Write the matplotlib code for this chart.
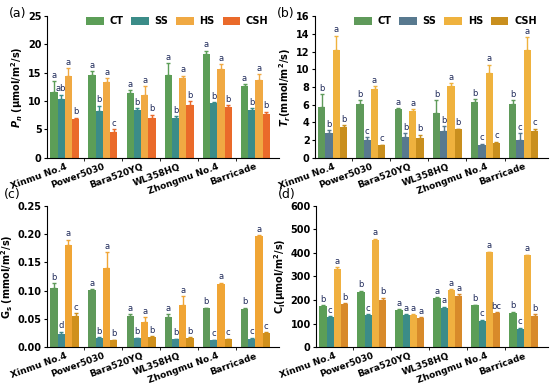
import matplotlib.pyplot as plt
import numpy as np

cultivars = ['Xinmu No.4', 'Power5030', 'Bara520YQ', 'WL358HQ', 'Zhongmu No.4', 'Barricade']
treatments = ['CT', 'SS', 'HS', 'CSH']

# (a) Pn
pn_mean = [[11.7, 14.7, 11.5, 14.6, 18.4, 12.7],
           [10.3, 8.3, 8.4, 7.0, 9.6, 8.5],
           [14.4, 13.3, 11.1, 14.0, 15.7, 13.8],
           [6.8, 4.6, 7.0, 9.3, 8.9, 7.8]]
pn_err = [[1.8, 0.6, 0.4, 2.1, 0.5, 0.3],
          [0.8, 0.9, 0.4, 0.3, 0.2, 0.3],
          [1.4, 0.7, 1.5, 0.5, 0.8, 1.0],
          [0.3, 0.4, 0.6, 0.7, 0.4, 0.3]]
pn_let = [['a', 'a', 'a', 'a', 'a', 'a'],
          ['ab', 'b', 'b', 'b', 'b', 'b'],
          ['a', 'a', 'a', 'a', 'a', 'a'],
          ['b', 'c', 'b', 'b', 'b', 'b']]

# (b) Tr
tr_mean = [[5.7, 6.1, 5.5, 5.1, 6.3, 6.1],
           [2.8, 2.0, 2.4, 3.0, 1.5, 2.0],
           [12.2, 7.8, 5.3, 8.1, 9.6, 12.2],
           [3.5, 1.4, 2.2, 3.2, 1.7, 3.0]]
tr_err = [[1.5, 0.4, 0.1, 1.4, 0.3, 0.4],
          [0.3, 0.3, 0.4, 0.6, 0.1, 0.8],
          [1.6, 0.3, 0.2, 0.3, 0.9, 1.4],
          [0.2, 0.1, 0.4, 0.1, 0.1, 0.3]]
tr_let = [['b', 'b', 'a', 'b', 'b', 'b'],
          ['b', 'c', 'b', 'b', 'c', 'c'],
          ['a', 'a', 'a', 'a', 'a', 'a'],
          ['b', 'c', 'b', 'b', 'c', 'c']]

# (c) Gs
gs_mean = [[0.105, 0.101, 0.055, 0.054, 0.069, 0.068],
           [0.024, 0.017, 0.016, 0.014, 0.012, 0.015],
           [0.180, 0.140, 0.045, 0.075, 0.112, 0.196],
           [0.055, 0.012, 0.018, 0.017, 0.014, 0.025]]
gs_err = [[0.008, 0.002, 0.003, 0.004, 0.001, 0.002],
          [0.003, 0.001, 0.001, 0.001, 0.001, 0.002],
          [0.010, 0.028, 0.008, 0.015, 0.002, 0.002],
          [0.005, 0.001, 0.001, 0.001, 0.001, 0.001]]
gs_let = [['b', 'a', 'a', 'a', 'b', 'b'],
          ['d', 'b', 'b', 'b', 'c', 'c'],
          ['a', 'a', 'a', 'a', 'a', 'a'],
          ['c', 'b', 'b', 'b', 'c', 'c']]

# (d) Ci
ci_mean = [[173, 234, 157, 207, 177, 146],
           [127, 135, 137, 167, 113, 78],
           [333, 453, 135, 241, 402, 390],
           [182, 202, 123, 219, 143, 134]]
ci_err = [[5, 6, 4, 5, 4, 4],
          [4, 5, 4, 5, 4, 4],
          [7, 7, 5, 5, 4, 3],
          [5, 8, 4, 5, 5, 5]]
ci_let = [['b', 'b', 'a', 'a', 'b', 'b'],
          ['c', 'c', 'a', 'a', 'c', 'c'],
          ['a', 'a', 'a', 'a', 'a', 'a'],
          ['b', 'b', 'a', 'a', 'bc', 'b']]

colors_a = ['#5c9e57', '#3b8c88', '#f0a943', '#ea6a2a']
colors_b = ['#5f9a5a', '#58798f', '#efb23e', '#c98f1e']
colors_c = ['#5f9a5a', '#3f8a90', '#f0a535', '#d0901c']
colors_d = ['#5c9e57', '#3b8c88', '#f0b040', '#d88a2a']

plt.rcParams['font.family'] = 'DejaVu Sans'
plt.rcParams['font.weight'] = 'bold'
plt.rcParams['axes.labelweight'] = 'bold'
plt.rcParams['mathtext.default'] = 'bf'
fig = plt.figure(figsize=(5.5, 3.84), dpi=100)

boxes = [[0.086, 0.589, 0.422, 0.369],
         [0.573, 0.589, 0.423, 0.369],
         [0.086, 0.096, 0.422, 0.368],
         [0.575, 0.096, 0.421, 0.368]]
labpos = [(-0.09, 1.02), (-0.09, 1.02), (-0.115, 1.08), (-0.09, 1.08)]
panels = [('(a)', pn_mean, pn_err, pn_let, colors_a, 25, 5, '$\\mathbfit{P}_\\mathbfit{n}$ (μmol/m$^2$/s)', '%d', True),
          ('(b)', tr_mean, tr_err, tr_let, colors_b, 16, 2, '$\\mathbfit{T}_\\mathbfit{r}$(mmol/m$^2$/s)', '%d', True),
          ('(c)', gs_mean, gs_err, gs_let, colors_c, 0.25, 0.05, 'G$_s$ (mmol/m$^2$/s)', '%.2f', False),
          ('(d)', ci_mean, ci_err, ci_let, colors_d, 600, 100, 'C$_i$(μmol/m$^2$/s)', '%d', False)]

x = np.arange(len(cultivars))
w = 0.19
for box, lp, (lab, mean, err, let, cols, ymax, ystep, ylab, fmt, leg) in zip(boxes, labpos, panels):
    ax = fig.add_axes(box)
    for i, t in enumerate(treatments):
        xs = x + (i - 1.5) * w
        ax.bar(xs, mean[i], w, color=cols[i], label=t,
               yerr=[np.zeros(6), err[i]], ecolor=cols[i], capsize=1.5,
               error_kw={'elinewidth': 1, 'capthick': 1})
        for j in range(6):
            ax.text(xs[j], mean[i][j] + err[i][j] + ymax * 0.01, let[i][j],
                    ha='center', va='bottom', fontsize=6, color='#1f2a5a', fontweight='normal')
    ax.set_xlim(-0.46, 5.63)
    ax.set_ylim(0, ymax)
    ax.set_yticks(np.arange(0, ymax + ystep / 2, ystep))
    ax.yaxis.set_major_formatter(plt.FormatStrFormatter(fmt))
    ax.set_xticks(x)
    ax.set_xticks(x[:-1] + 0.5, minor=True)
    ax.set_xticklabels(cultivars, rotation=20, ha='right', rotation_mode='anchor', fontsize=6.5)
    ax.tick_params(axis='x', which='major', length=0, pad=3)
    ax.tick_params(axis='x', which='minor', length=2)
    ax.tick_params(axis='y', labelsize=7, length=2.5, pad=1.5)
    ax.spines['top'].set_visible(False)
    ax.spines['right'].set_visible(False)
    ax.set_ylabel(ylab, fontsize=7, labelpad=2)
    ax.text(lp[0], lp[1], lab, transform=ax.transAxes, fontsize=9, fontweight='normal',
            va='center', ha='right')
    if leg:
        ax.legend(loc='upper center', bbox_to_anchor=(0.56, 1.06), ncol=4, frameon=False,
                  fontsize=7, handlelength=1.8, handleheight=0.8, columnspacing=0.8, handletextpad=0.6)

fig.savefig('out.png', dpi=100)
